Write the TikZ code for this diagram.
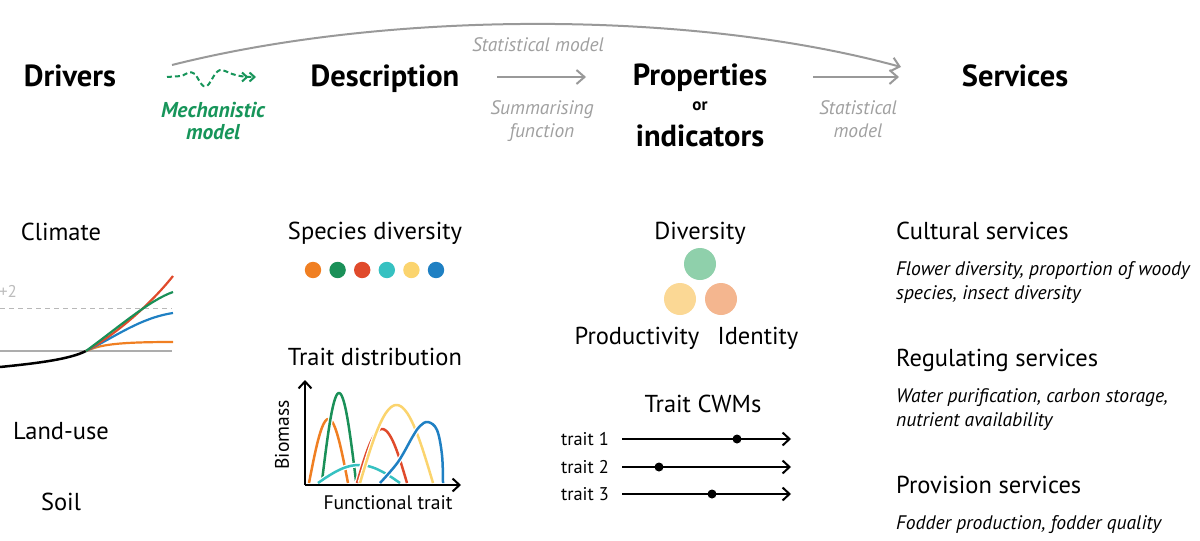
\documentclass[tikz,border=0pt]{standalone}
\usepackage{fontspec}
\setmainfont{PT Sans}
\usetikzlibrary{arrows.meta}
\definecolor{cOr}{HTML}{F07F22}
\definecolor{cGr}{HTML}{1A9058}
\definecolor{cRd}{HTML}{E04A2B}
\definecolor{cCy}{HTML}{36C1C1}
\definecolor{cYe}{HTML}{FBD46E}
\definecolor{cBl}{HTML}{1F80C3}
\definecolor{mGr}{HTML}{17955A}
\definecolor{lGr}{HTML}{8FD0AB}
\definecolor{lYe}{HTML}{FBD895}
\definecolor{lOr}{HTML}{F4B68F}
\definecolor{gArr}{HTML}{999999}
\definecolor{gTxt}{HTML}{A0A0A0}
\tikzset{
  head/.style={font=\fontsize{30.5}{32}\selectfont\bfseries, inner sep=0pt, text height=21.3pt, text depth=0pt},
  body/.style={font=\fontsize{24.5}{26}\selectfont, inner sep=0pt, text height=17.2pt, text depth=0pt},
  note/.style={font=\fontsize{19.5}{22}\selectfont\itshape, text=gTxt, inner sep=0pt, text height=13.7pt, text depth=0pt},
  svc/.style={font=\fontsize{19.6}{22}\selectfont\itshape, inner sep=0pt, anchor=west, text height=13.7pt, text depth=0pt},
  small/.style={font=\fontsize{18.4}{20}\selectfont, inner sep=0pt, text height=12.9pt, text depth=0pt},
  mech/.style={font=\fontsize{21.5}{23}\selectfont\bfseries\itshape, text=mGr, inner sep=0pt, text height=15pt, text depth=0pt},
  garrow/.style={draw=gArr, line width=2pt, -{Straight Barb[length=8pt,width=14pt]}},
  curve/.style={line width=2.5pt, preaction={draw=white, line width=5pt}},
  taxis/.style={draw=black, line width=2pt, -{Straight Barb[length=7pt,width=13pt]}},
}
\begin{document}
\begin{tikzpicture}[x=1pt,y=-1pt]
\useasboundingbox (0,0) rectangle (1200,541);

% headers
\node[head] (drv) at (70,76) {Drivers};
\node[head] (dsc) at (385,76) {Description};
\node[head] (prp) at (700,75) {Properties};
\node[font=\fontsize{17}{18}\selectfont\bfseries, inner sep=0pt, anchor=base] (or) at (700,110) {or};
\node[head] (ind) at (700,136) {indicators};
\node[head] (srv) at (1015,76) {Services};

% mechanistic model
\coordinate (m0) at (167,77);
\coordinate (m1) at (256,77);
\draw[mGr, line width=2pt, dash pattern=on 5pt off 3pt, -{Straight Barb[length=5pt,width=9pt] Straight Barb[length=5pt,width=9pt]}]
  (m0) -- (182,76) .. controls (186,74) and (190,70) .. (195,74)
  .. controls (199,79) and (202,89) .. (207,86)
  .. controls (212,82) and (215,69) .. (222,70)
  .. controls (228,71) and (232,77) .. (m1);
\node[mech] (mm1) at (213,109.5) {Mechanistic};
\node[mech] (mm2) at (213,131.5) {model};

% summarising function
\coordinate (s0) at (497,77);
\coordinate (s1) at (586,77);
\draw[garrow] (s0) -- (s1);
\node[note] (sf1) at (542,108) {Summarising};
\node[note] (sf2) at (542,131) {function};

% statistical model
\coordinate (t0) at (813,77);
\coordinate (t1) at (899,77);
\draw[garrow] (t0) -- (t1);
\node[note] (sm1) at (858,108) {Statistical};
\node[note] (sm2) at (858,131) {model};

% big arc
\coordinate (a0) at (172,65);
\coordinate (a1) at (901,67);
\draw[garrow] (a0) .. controls (390,10) and (693,10) .. (a1);
\node[note] (sma) at (538,45) {Statistical model};

% ---- column 1
\node[body] (clim) at (61,232) {Climate};
\node[body] (land) at (61,431) {Land-use};
\node[body] (soil) at (61,502) {Soil};
\node[font=\fontsize{17}{18}\selectfont, text=gTxt!70, inner sep=0pt] (p2) at (8,291) {+2};
\coordinate (d0) at (0,308); \coordinate (d1) at (172,308);
\draw[gArr!70, line width=1pt, dash pattern=on 5pt off 4pt] (d0) -- (d1);
\coordinate (z0) at (0,351); \coordinate (z1) at (172,351);
\draw[gArr!80, line width=1.2pt] (z0) -- (z1);
\coordinate (c0) at (0,367); \coordinate (c1) at (86,351);
\draw[black, line width=2.5pt] (c0) .. controls (40,363) and (70,359) .. (c1);
\draw[cOr, line width=2.2pt] (c1) .. controls (100,345) and (115,342) .. (173,342);
\draw[cBl, line width=2.2pt] (c1) .. controls (115,337) and (140,318) .. (173,313);
\draw[cRd, line width=2.2pt] (c1) .. controls (115,335) and (150,305) .. (173,276);
\draw[cGr, line width=2.2pt] (c1) .. controls (120,326) and (150,300) .. (173,292);

% ---- column 2
\node[body] (spd) at (375,231) {Species diversity};
\foreach \c [count=\i] in {cOr,cGr,cRd,cCy,cYe,cBl}
  \fill[\c] ({313+24.6*(\i-1)},270) circle (8.2);
\node[body] (trd) at (375,357) {Trait distribution};

% trait distribution curves
\draw[curve, cOr] plot[domain=309:348, samples=40] (\x,{483-64*sin(180*(\x-309)/39)});
\draw[curve, cGr] plot[domain=322:356, samples=40] (\x,{481-88*sin(180*(\x-322)/34)});
\draw[curve, cCy] plot[domain=318:400, samples=40] (\x,{483-18*sin(180*(\x-318)/82)});
\draw[curve, cRd] plot[domain=357:407, samples=40] (\x,{483-54*sin(180*(\x-357)/50)});
\draw[curve, cYe] plot[domain=360:433, samples=50] (\x,{483-78*sin(180*(\x-360)/73)});
\draw[curve, cBl] plot[smooth, tension=0.6] coordinates {(380,483) (398,462) (413,436) (420,426) (428,422) (437,430) (442,455) (443,483)};
\coordinate (o) at (305,485);
\coordinate (yt) at (305,380);
\coordinate (xt) at (461,485);
\draw[taxis] (o) -- (yt);
\draw[taxis] (o) -- (xt);
\node[font=\fontsize{19.6}{21}\selectfont, inner sep=0pt, rotate=90, text height=13.7pt, text depth=0pt] (bio) at (282,435) {Biomass};
\node[font=\fontsize{19.6}{21}\selectfont, inner sep=0pt, text height=13.7pt, text depth=0pt] (ft) at (388,503) {Functional trait};

% ---- column 3
\node[body] (div) at (700,231) {Diversity};
\fill[lGr] (700,264) circle (16);
\fill[lYe] (680,299) circle (16);
\fill[lOr] (721,299) circle (16);
\node[body] (prod) at (637,336) {Productivity};
\node[body] (iden) at (758,336) {Identity};
\node[body] (cwm) at (703,404) {Trait CWMs};
\foreach \yy/\dx/\n in {439/737/1, 467/659/2, 494/712/3}{
  \node[small, anchor=east] (tl\n) at (609,\yy) {trait \n};
  \coordinate (tb\n) at (622,\yy);
  \coordinate (te\n) at (791,\yy);
  \draw[taxis] (tb\n) -- (te\n);
  \fill (\dx,\yy) circle (4.5);
}

% ---- column 4
\node[body, anchor=west] (cul) at (896,231) {Cultural services};
\node[svc] (cul1) at (896,269) {Flower diversity, proportion of woody};
\node[svc] (cul2) at (896,293) {species, insect diversity};
\node[body, anchor=west] (reg) at (896,358) {Regulating services};
\node[svc] (reg1) at (896,396) {Water purification, carbon storage,};
\node[svc] (reg2) at (896,420) {nutrient availability};
\node[body, anchor=west] (pro) at (896,485) {Provision services};
\node[svc] (pro1) at (896,523) {Fodder production, fodder quality};
\end{tikzpicture}
\end{document}
